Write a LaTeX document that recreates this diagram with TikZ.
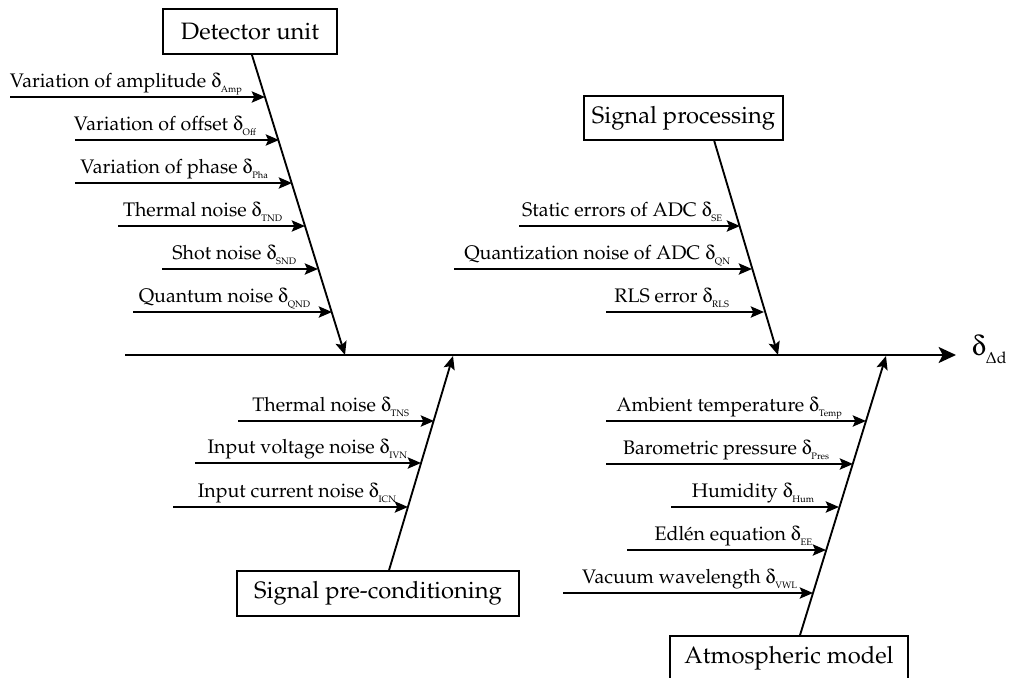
\documentclass[tikz,border=0pt]{standalone}
\usepackage[T1]{fontenc}
\usepackage{mathpazo}
\usepackage[Symbol]{upgreek}
\usetikzlibrary{arrows.meta,calc}
\newcommand{\dl}[1]{$\updelta$\raisebox{-0.55ex}{\fontsize{7}{8}\selectfont #1}}
\begin{document}
\begin{tikzpicture}[x=0.75pt,y=-0.75pt,line width=1.4pt,
  box/.style={draw,line width=1.4pt,inner sep=0pt,font=\fontsize{17.8}{20}\selectfont},
  lab/.style={inner sep=0pt,anchor=base east,font=\fontsize{14.7}{16}\selectfont},
  arr/.style={-{Stealth[length=10pt,width=8.5pt,inset=2pt]}},
  bigarr/.style={-{Stealth[length=13pt,width=12pt,inset=3pt]}}]
\useasboundingbox (0,0) rectangle (1011,678);
\clip (0,0) rectangle (1011,678);
% main boxes
\node[box,minimum width=130.5pt,minimum height=33.75pt] (det) at (250,31.5) {Detector unit};
\node[box,minimum width=149.25pt,minimum height=33pt] (sp) at (683.5,118) {Signal processing};
\node[box,minimum width=211.5pt,minimum height=33.75pt] (pc) at (378,593.5) {Signal pre-conditioning};
\node[box,minimum width=178.5pt,minimum height=33.75pt] (am) at (789,658.5) {Atmospheric model};
% spine
\coordinate (s0) at (125,355);
\coordinate (s1) at (956,355);
\draw[bigarr] (s0) -- (s1);
\node[inner sep=0pt,anchor=base west] (out) at (971,355)
  {{\fontsize{21}{22}\selectfont$\updelta$}\raisebox{-6.5pt}{\fontsize{12}{13}\selectfont$\Delta$d}};
% bones
\coordinate (dtop) at ($(det.south west)!0.511!(det.south east)$);
\coordinate (dtip) at (345,355);
\coordinate (stop) at ($(sp.south west)!0.653!(sp.south east)$);
\coordinate (stip) at (778,355);
\coordinate (pbot) at ($(pc.north west)!0.539!(pc.north east)$);
\coordinate (ptip) at (453,356);
\coordinate (abot) at ($(am.north west)!0.546!(am.north east)$);
\coordinate (atip) at (886,356);
\draw[arr] (dtop) -- (dtip);
\draw[arr] (stop) -- (stip);
\draw[arr] (pbot) -- (ptip);
\draw[arr] (abot) -- (atip);
% causes
\foreach \n/\xs/\xe/\y/\xl/\t in {
  da/10/265/97/243/{Variation of amplitude \dl{Amp}},
  db/75/279/140/257/{Variation of offset \dl{Off}},
  dc/75/292/183/269/{Variation of phase \dl{Pha}},
  dd/118/305/226/283/{Thermal noise \dl{TND}},
  de/162/318/269/297/{Shot noise \dl{SND}},
  df/133/332/312/311/{Quantum noise \dl{QND}},
  sa/519/740/226/723/{Static errors of ADC \dl{SE}},
  sb/454/752/269/731/{Quantization noise of ADC \dl{QN}},
  sc/606/764/312/730/{RLS error \dl{RLS}},
  pa/238/434/421/410/{Thermal noise \dl{TNS}},
  pb/195/421/463/408/{Input voltage noise \dl{IVN}},
  pc/173/408/507/397/{Input current noise \dl{ICN}},
  aa/606/866/421/843/{Ambient temperature \dl{Temp}},
  ab/606/853/464/830/{Barometric pressure \dl{Pres}},
  ac/671/839/507/815/{Humidity \dl{Hum}},
  ad/627/826/550/813/{Edl\'en equation \dl{EE}},
  ae/563/813/593/798/{Vacuum wavelength \dl{VWL}}} {
  \coordinate (\n s) at (\xs,\y);
  \coordinate (\n e) at (\xe,\y);
  \node[lab] (\n l) at (\xl,\y-10) {\t};
  \draw[arr] (\n s) -- (\n e);
}
\end{tikzpicture}
\end{document}
